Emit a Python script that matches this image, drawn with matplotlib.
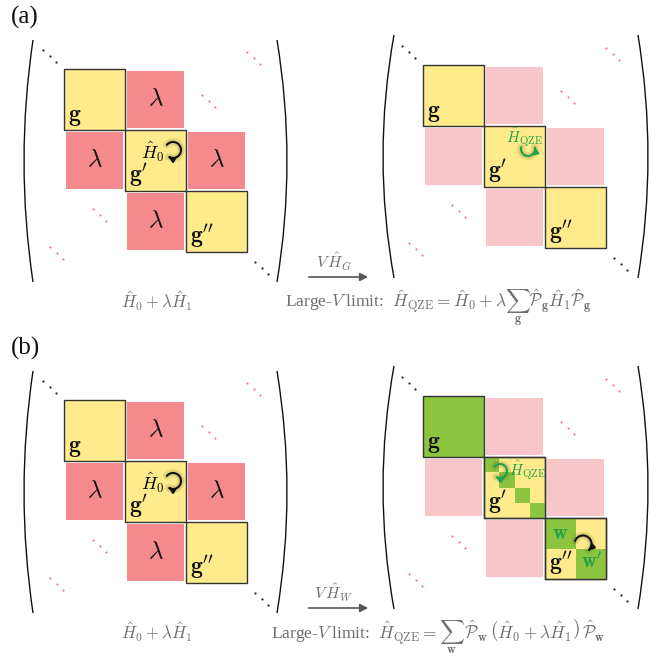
import numpy as np
import matplotlib.pyplot as plt
from matplotlib.patches import Rectangle, FancyArrowPatch, PathPatch
from matplotlib.path import Path

plt.rcParams['mathtext.fontset'] = 'cm'
plt.rcParams['font.family'] = ['Liberation Serif', 'DejaVu Serif']

# --- DATA ---
panel_labels = ['(a)', '(b)']
block_labels = [r'$\mathbf{g}$', r"$\mathbf{g}'$", r"$\mathbf{g}''$"]
offdiag_label = r'$\lambda$'
offdiag_cells = [(0, 1), (1, 0), (1, 2), (2, 1)]
h_label = r'$\hat{H}_0$'
qze_label = r'$\hat{H}_{\mathrm{QZE}}$'
left_caption = r'$\hat{H}_0+\lambda\hat{H}_1$'
arrow_labels = [r'$V\,\hat{H}_G$', r'$V\,\hat{H}_W$']
right_captions = [
    r'Large-$V$ limit:  $\hat{H}_{\mathrm{QZE}}=\hat{H}_0+\lambda\sum_{\mathbf{g}}\hat{\mathcal{P}}_{\mathbf{g}}\hat{H}_1\hat{\mathcal{P}}_{\mathbf{g}}$',
    r'Large-$V$ limit:  $\hat{H}_{\mathrm{QZE}}=\sum_{\mathbf{w}}\,\hat{\mathcal{P}}_{\mathbf{w}}\,\left(\hat{H}_0+\lambda\hat{H}_1\right)\,\hat{\mathcal{P}}_{\mathbf{w}}$',
]
w_labels = [r'$\mathbf{w}$', r"$\mathbf{w}'$"]
# ellipsis groups: (dx, dy, colour kind) relative to matrix origin
dot_groups = [(-21, -19, 'k'), (183, -17, 'r'), (138, 26, 'r'),
              (29, 140, 'r'), (-14, 178, 'r'), (191, 193, 'k')]

yellow = '#FFEB8C'
red = '#F48A8E'
pink = '#F8C6C9'
green = '#8CC43F'
gtext = '#1FA24A'
edge = '#333333'
gray = '#6E6E6E'

CELL = 61
PANEL_DY = 331

fig = plt.figure(figsize=(6.51, 6.58), dpi=100)
ax = fig.add_axes([0, 0, 1, 1])
ax.set_xlim(0, 651)
ax.set_ylim(658, 0)
ax.axis('off')


def paren(x_end, x_mid, y0, y1):
    c = 2 * x_mid - x_end
    p = Path([(x_end, y0), (c, (y0 + y1) / 2), (x_end, y1)],
             [Path.MOVETO, Path.CURVE3, Path.CURVE3])
    ax.add_patch(PathPatch(p, fill=False, lw=1.0, color='#111111'))


def dots(ox, oy):
    for dx, dy, kind in dot_groups:
        for k in range(3):
            if kind == 'k':
                ax.plot(ox + dx + k * 6.5, oy + dy + k * 6, 'o', ms=1.6, color='#222222', mec='none')
            else:
                ax.plot(ox + dx + k * 6.5, oy + dy + k * 6, 'o', ms=1.6, color='#F07C80', mec='none')


def loop(cx, cy, r, t0, t1, color, glow=True):
    t = np.radians(np.linspace(t0, t1, 40))
    verts = list(zip(cx + r * np.cos(t), cy - r * np.sin(t)))
    if glow:
        for w, a in [(6, 0.08), (4, 0.12)]:
            ax.plot(*zip(*verts), color='#4a4a10', lw=w, alpha=a, solid_capstyle='round', zorder=4)
    ax.add_patch(FancyArrowPatch(path=Path(verts), arrowstyle='-|>', mutation_scale=8,
                                 color=color, lw=1.5, zorder=5))


def block(x, y, color, border=True):
    ax.add_patch(Rectangle((x, y), CELL, CELL, facecolor=color,
                           edgecolor=edge if border else 'none', lw=1.0, zorder=2 if border else 1))


def glabel(x, y, i, color='#111111'):
    ax.text(x + 4, y + CELL - 2, block_labels[i], fontsize=17, color=color,
            ha='left', va='bottom', zorder=4)


def offdiag(ox, oy, color, with_text):
    for i, j in offdiag_cells:
        cx = ox + (j + 0.5) * CELL
        cy = oy + (i + 0.5) * CELL
        ax.add_patch(Rectangle((cx - 28.5, cy - 28.5), 57, 57, facecolor=color, edgecolor='none', zorder=1))
        if with_text:
            ax.text(cx, cy, offdiag_label, fontsize=18, ha='center', va='center', color='#111111')


def left_matrix(oy):
    ox = 64
    paren(33, 24, oy - 29, oy + 213)
    paren(277, 287, oy - 29, oy + 213)
    dots(ox, oy)
    offdiag(ox, oy, red, True)
    for i in range(3):
        block(ox + i * CELL, oy + i * CELL, yellow)
        glabel(ox + i * CELL, oy + i * CELL, i)
    ax.text(ox + CELL + 28, oy + CELL + 22, h_label, fontsize=13, ha='center', va='center', zorder=4)
    loop(ox + CELL + 48, oy + CELL + 20, 8, 140, -125, '#111111')
    ax.text(157, oy + 239, left_caption, fontsize=12, color=gray, ha='center', va='baseline')


def right_matrix(oy, kind):
    ox = 423
    paren(394, 383, oy - 30, oy + 213)
    paren(638, 648, oy - 30, oy + 213)
    dots(ox, oy)
    offdiag(ox, oy, pink, False)
    if kind == 'g':
        for i in range(3):
            block(ox + i * CELL, oy + i * CELL, yellow)
            glabel(ox + i * CELL, oy + i * CELL, i)
        ax.text(ox + CELL + 41, oy + CELL + 11, qze_label, fontsize=11, color=gtext,
                ha='center', va='center', zorder=4)
        loop(ox + CELL + 44, oy + CELL + 23, 7, 165, 375, gtext)
    else:
        # g block fully green
        block(ox, oy, green)
        glabel(ox, oy, 0)
        # g' block: 4x4 sub-blocks, diagonal green
        x1, y1 = ox + CELL, oy + CELL
        block(x1, y1, yellow)
        s = CELL / 4
        for k in range(4):
            ax.add_patch(Rectangle((x1 + k * s, y1 + k * s), s, s, facecolor=green,
                                   edgecolor='none', zorder=3))
        ax.add_patch(Rectangle((x1, y1), CELL, CELL, facecolor='none', edgecolor=edge, lw=1.0, zorder=3.5))
        glabel(x1, y1, 1)
        ax.text(x1 + 44, y1 + 13, qze_label, fontsize=11, color=gtext, ha='center', va='center', zorder=4)
        loop(x1 + 16, y1 + 14, 7, 140, -125, gtext)
        # g'' block: 2x2 sub-blocks
        x2, y2 = ox + 2 * CELL, oy + 2 * CELL
        block(x2, y2, yellow)
        h = CELL / 2
        for k in range(2):
            ax.add_patch(Rectangle((x2 + k * h, y2 + k * h), h, h, facecolor=green,
                                   edgecolor='none', zorder=3))
        ax.add_patch(Rectangle((x2, y2), CELL, CELL, facecolor='none', edgecolor=edge, lw=1.0, zorder=3.5))
        glabel(x2, y2, 2)
        ax.text(x2 + h / 2, y2 + h / 2 + 1, w_labels[0], fontsize=15, color=gtext,
                ha='center', va='center', zorder=4)
        ax.text(x2 + 1.5 * h + 1, y2 + 1.5 * h - 1, w_labels[1], fontsize=15, color=gtext,
                ha='center', va='center', zorder=4)
        loop(x2 + 38, y2 + 26, 8.5, 160, -50, '#111111')


for p in range(2):
    dy = p * PANEL_DY
    ax.text(11, 17 + dy, panel_labels[p], fontsize=18, ha='left', va='center', color='#111111')
    left_matrix(69 + dy)
    right_matrix(65 + dy, 'g' if p == 0 else 'w')
    ax.add_patch(FancyArrowPatch((306, 277 + dy), (371, 277 + dy), arrowstyle='-|>',
                                 mutation_scale=12, color='#555555', lw=1.2))
    ax.text(334, 268 + dy, arrow_labels[p], fontsize=11.5, color=gray, ha='center', va='baseline')
    ax.text(438, 308 + dy, right_captions[p], fontsize=12.5, color=gray, ha='center', va='baseline')

fig.savefig('out.png', dpi=100)
